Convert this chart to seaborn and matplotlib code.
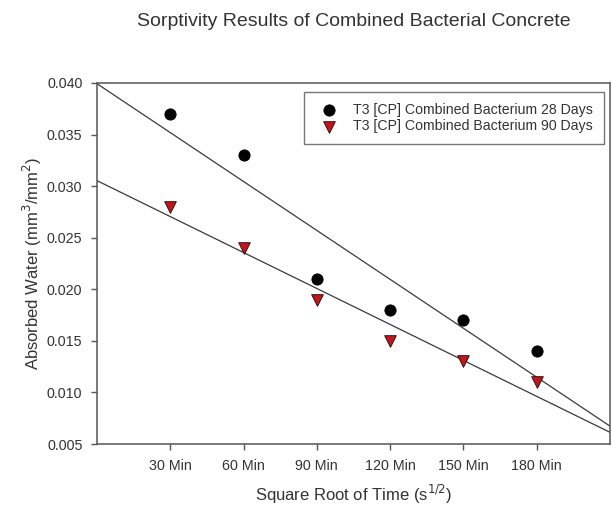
import numpy as np
import pandas as pd
import matplotlib
matplotlib.use("Agg")
import matplotlib.pyplot as plt
import seaborn as sns

# Data
categories = ["30 Min", "60 Min", "90 Min", "120 Min", "150 Min", "180 Min"]
positions = [1, 2, 3, 4, 5, 6]
days28 = [0.037, 0.033, 0.021, 0.018, 0.017, 0.014]
days90 = [0.028, 0.024, 0.019, 0.015, 0.013, 0.011]
label28 = "T3 [CP] Combined Bacterium 28 Days"
label90 = "T3 [CP] Combined Bacterium 90 Days"
yticks = [0.005, 0.010, 0.015, 0.020, 0.025, 0.030, 0.035, 0.040]

sns.set_style("white")
plt.rcParams["font.family"] = ["Liberation Sans", "DejaVu Sans"]

df28 = pd.DataFrame({"x": positions, "y": days28})
df90 = pd.DataFrame({"x": positions, "y": days90})

W, H = 612, 509
L, R, T, B = 97, 610, 83, 444
fig = plt.figure(figsize=(W / 100, H / 100), dpi=100)
ax = fig.add_axes([L / W, 1 - B / H, (R - L) / W, (B - T) / H])
ax.set_xlim(0, 7)
ax.set_ylim(0.005, 0.040)

line_kw = dict(color="#3a3a3a", linewidth=0.9)
sns.regplot(data=df28, x="x", y="y", ax=ax, ci=None, truncate=False,
            scatter=False, line_kws=line_kw)
sns.regplot(data=df90, x="x", y="y", ax=ax, ci=None, truncate=False,
            scatter=False, line_kws=line_kw)

sns.scatterplot(data=df28, x="x", y="y", ax=ax, marker="o", s=65,
                color="black", edgecolor="black", label=label28, zorder=3)
sns.scatterplot(data=df90, x="x", y="y", ax=ax, marker="v", s=70,
                color="#c0161c", edgecolor="#3a1010", linewidth=0.7,
                label=label90, zorder=3)

ax.set_xlim(0, 7)
ax.set_ylim(0.005, 0.040)
ax.set_xticks(positions)
ax.set_xticklabels(categories)
ax.set_yticks(yticks)
ax.set_yticklabels([f"{v:.3f}" for v in yticks])

for sp in ax.spines.values():
    sp.set_color("#555555")
    sp.set_linewidth(1.1)
ax.tick_params(axis="both", which="both", direction="out", length=4.5,
               width=1, color="#555555", labelsize=10.3, labelcolor="#333333",
               bottom=True, left=True, top=False, right=False, pad=6)

ax.set_xlabel(r"Square Root of Time (s$^{1/2}$)", fontsize=12,
              color="#333333", va="center")
ax.xaxis.set_label_coords(0.5, -(494 - B) / (B - T))
ax.set_ylabel(r"Absorbed Water (mm$^3$/mm$^2$)", fontsize=12,
              color="#333333")
ax.yaxis.set_label_coords(-(L - 44) / (R - L), 0.5)
fig.text(((L + R) / 2) / W, 1 - 22 / H,
         "Sorptivity Results of Combined Bacterial Concrete",
         fontsize=14, color="#333333", ha="center", va="center")

leg = ax.legend(loc="upper right",
                bbox_to_anchor=((604 - L) / (R - L), (B - 92) / (B - T)),
                fontsize=10.2, frameon=True, fancybox=False,
                borderaxespad=0.0, handletextpad=0.65, handlelength=2.1,
                labelspacing=0.2, borderpad=0.75, markerscale=1.0)
leg.get_frame().set_edgecolor("#555555")
leg.get_frame().set_linewidth(1.0)
for t in leg.get_texts():
    t.set_color("#333333")

fig.savefig("out.png", dpi=100)
